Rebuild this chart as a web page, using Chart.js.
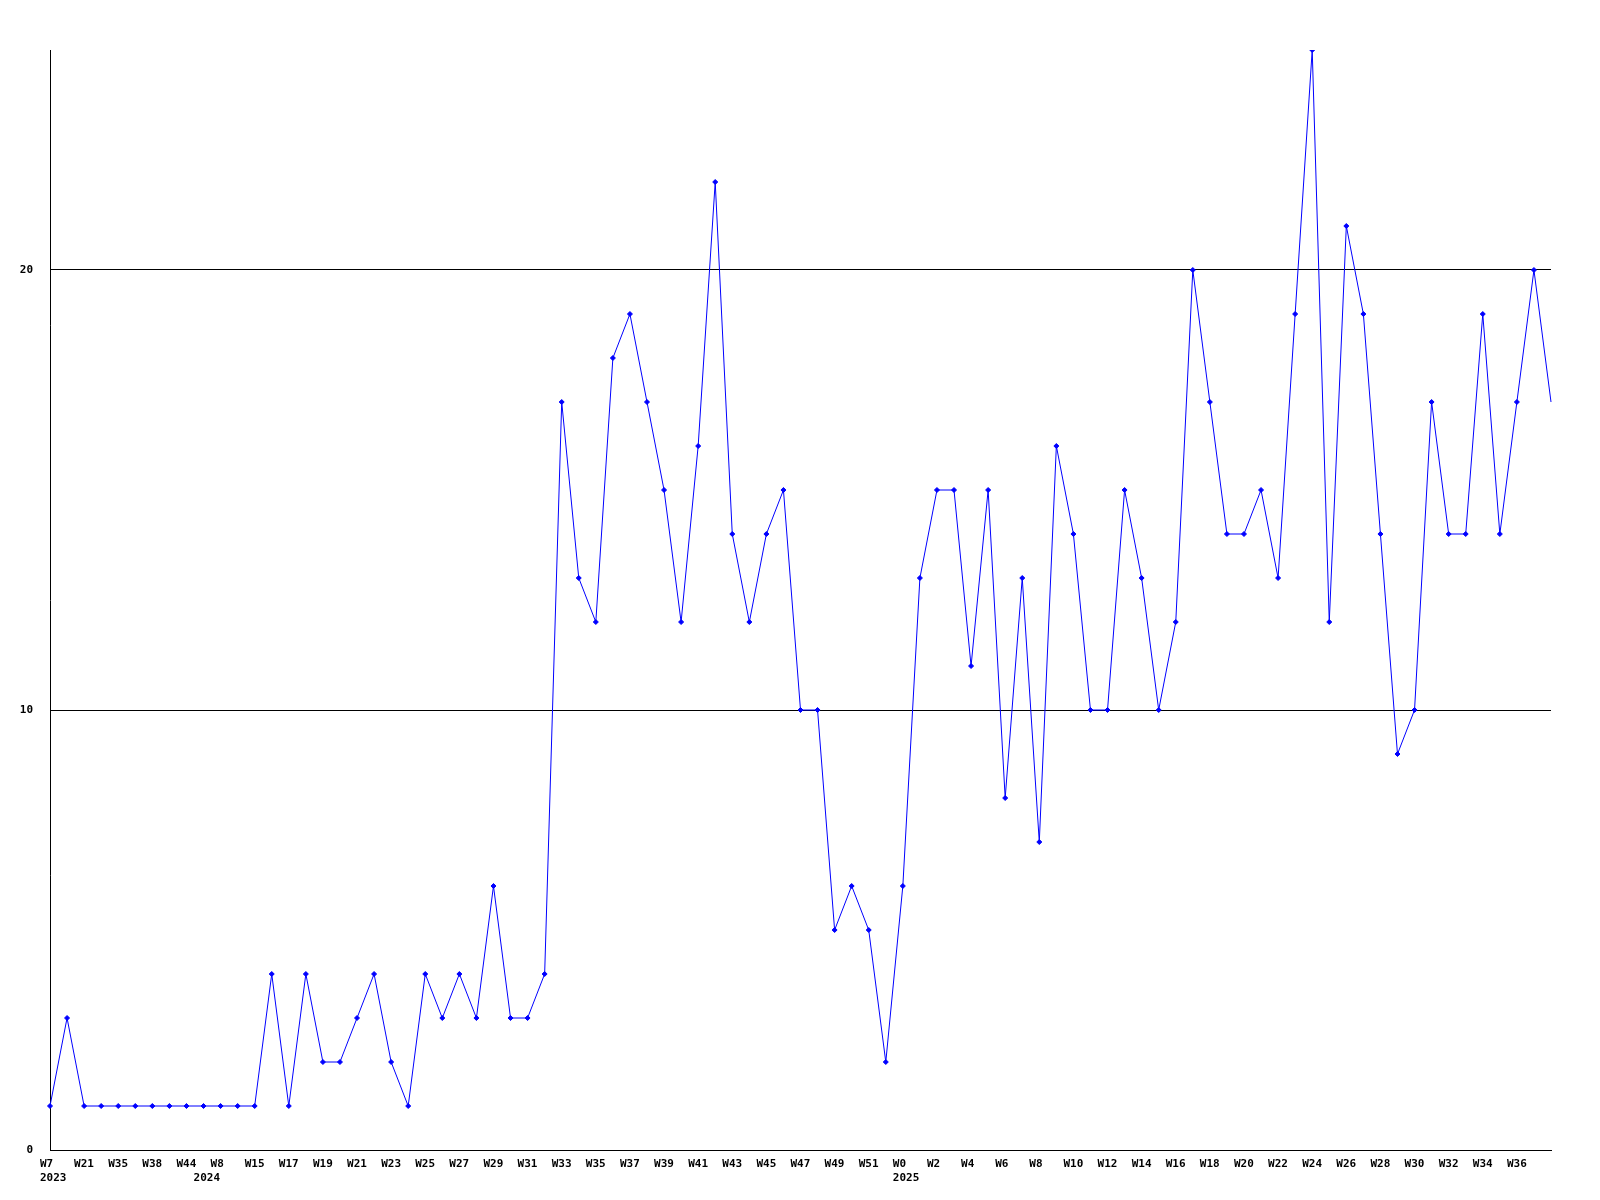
<!DOCTYPE html>
<html>
<head>
<meta charset="utf-8">
<script src="https://cdn.jsdelivr.net/npm/chart.js@4/dist/chart.umd.min.js"></script>
<style>
  body { margin: 0; background: #fff; }
  #wrap { width: 1600px; height: 1200px; }
</style>
</head>
<body>
<div id="wrap"><canvas id="myChart" width="1600" height="1200"></canvas></div>
<script>
// weekly values, one per point
const weeks = [
  "W7", "W14", "W21", "W28", "W35", "W36", "W38", "W41", "W44", "W3",
  "W8", "W11", "W15", "W16", "W17", "W18", "W19", "W20", "W21", "W22",
  "W23", "W24", "W25", "W26", "W27", "W28", "W29", "W30", "W31", "W32",
  "W33", "W34", "W35", "W36", "W37", "W38", "W39", "W40", "W41", "W42",
  "W43", "W44", "W45", "W46", "W47", "W48", "W49", "W50", "W51", "W52",
  "W0", "W1", "W2", "W3", "W4", "W5", "W6", "W7", "W8", "W9",
  "W10", "W11", "W12", "W13", "W14", "W15", "W16", "W17", "W18", "W19",
  "W20", "W21", "W22", "W23", "W24", "W25", "W26", "W27", "W28", "W29",
  "W30", "W31", "W32", "W33", "W34", "W35", "W36", "W37", "W38"
];
const years = [
  2023, 2023, 2023, 2023, 2023, 2023, 2023, 2023, 2023, 2024,
  2024, 2024, 2024, 2024, 2024, 2024, 2024, 2024, 2024, 2024,
  2024, 2024, 2024, 2024, 2024, 2024, 2024, 2024, 2024, 2024,
  2024, 2024, 2024, 2024, 2024, 2024, 2024, 2024, 2024, 2024,
  2024, 2024, 2024, 2024, 2024, 2024, 2024, 2024, 2024, 2024,
  2025, 2025, 2025, 2025, 2025, 2025, 2025, 2025, 2025, 2025,
  2025, 2025, 2025, 2025, 2025, 2025, 2025, 2025, 2025, 2025,
  2025, 2025, 2025, 2025, 2025, 2025, 2025, 2025, 2025, 2025,
  2025, 2025, 2025, 2025, 2025, 2025, 2025, 2025, 2025
];
const counts = [
  1, 3, 1, 1, 1, 1, 1, 1, 1, 1,
  1, 1, 1, 4, 1, 4, 2, 2, 3, 4,
  2, 1, 4, 3, 4, 3, 6, 3, 3, 4,
  17, 13, 12, 18, 19, 17, 15, 12, 16, 22,
  14, 12, 14, 15, 10, 10, 5, 6, 5, 2,
  6, 13, 15, 15, 11, 15, 8, 13, 7, 16,
  14, 10, 10, 15, 13, 10, 12, 20, 17, 14,
  14, 15, 13, 19, 25, 12, 21, 19, 14, 9,
  10, 17, 14, 14, 19, 14, 17, 20, 17
];
const yTicks = [0, 10, 20];

const tickFont = { family: "'DejaVu Sans Mono', monospace", size: 11, weight: "bold" };

const xLabel = (i) => {
  if (i === weeks.length - 1) return "";
  const week = i % 2 === 0 ? weeks[i] : "";
  const newYear = i === 0 || years[i] !== years[i - 1];
  if (newYear) return [week, String(years[i])];
  return week;
};

const ctx = document.getElementById("myChart").getContext("2d");
const myChart = new Chart(ctx, {
  type: "line",
  data: {
    labels: weeks,
    datasets: [{
      data: counts,
      borderColor: "#0000ff",
      backgroundColor: "#0000ff",
      borderWidth: 1,
      tension: 0,
      pointStyle: "rectRot",
      pointRadius: (c) => c.dataIndex === counts.length - 1 ? 0 : 2.5,
      pointBorderWidth: 1
    }]
  },
  options: {
    responsive: false,
    animation: false,
    layout: { padding: { left: 0, top: 50, right: 49, bottom: 0 } },
    plugins: { legend: { display: false }, tooltip: { enabled: false } },
    scales: {
      x: {
        offset: false,
        grid: { display: false, drawTicks: false },
        border: { display: true, color: "#000", width: 1 },
        afterFit: (scale) => { scale.height = 50; },
        ticks: {
          autoSkip: false,
          maxRotation: 0,
          minRotation: 0,
          align: "start",
          labelOffset: -10,
          padding: 8,
          color: "#000",
          font: tickFont,
          callback: (val, i) => xLabel(i)
        }
      },
      y: {
        min: 0,
        max: 25,
        afterBuildTicks: (axis) => { axis.ticks = yTicks.map((v) => ({ value: v })); },
        afterFit: (scale) => { scale.width = 50; },
        grid: { color: "#000", lineWidth: 1, drawTicks: false },
        border: { display: true, color: "#000", width: 1 },
        ticks: { padding: 17, color: "#000", font: tickFont }
      }
    }
  }
});
</script>
</body>
</html>
